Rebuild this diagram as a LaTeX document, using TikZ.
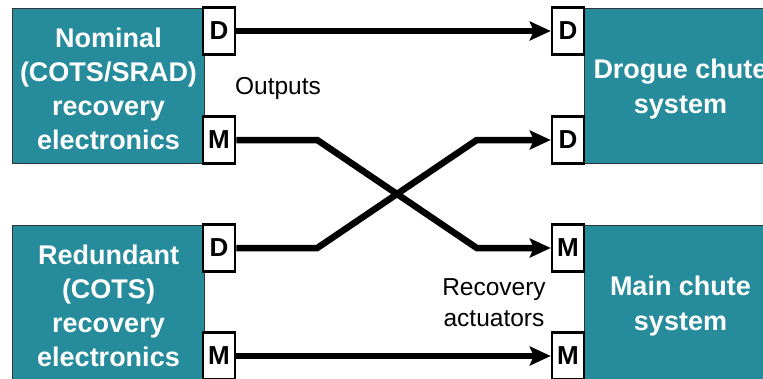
\documentclass[tikz,border=0pt]{standalone}
\usepackage{fontspec}
\setmainfont{Liberation Sans}
\usetikzlibrary{arrows.meta}
\definecolor{teal1}{HTML}{268C9B}
\tikzset{
  sysbox/.style={draw=black!80, line width=1pt, fill=teal1, minimum width=192pt, minimum height=155pt,
    anchor=north west, inner sep=0pt},
  boxtext/.style={text=white, align=center, inner sep=0pt,
    font=\fontsize{27pt}{34pt}\selectfont\bfseries},
  port/.style={draw=black, line width=2.5pt, fill=white, minimum width=32pt, minimum height=47pt,
    inner sep=0pt, font=\fontsize{26pt}{28pt}\selectfont\bfseries},
  conn/.style={line width=6.5pt, -{Stealth[length=21pt,width=19pt,inset=4pt]}},
  lbl/.style={align=center, font=\fontsize{24.5pt}{31pt}\selectfont}
}
\begin{document}
\begin{tikzpicture}[x=1pt,y=-1pt]
\useasboundingbox (0,0) rectangle (763,378);
\clip (0,0) rectangle (763,378);
% boxes
\node[sysbox] (nom) at (12,8) {};
\node[sysbox] (red) at (12,225) {};
\node[sysbox] (dro) at (584,8) {};
\node[sysbox] (mai) at (584,225) {};
\node[boxtext] (nomt) at ([yshift=-2.5pt]nom.center) {Nominal\\(COTS/SRAD)\\recovery\\electronics};
\node[boxtext] (redt) at ([yshift=-2.5pt]red.center) {Redundant\\(COTS)\\recovery\\electronics};
\node[boxtext, font=\fontsize{27pt}{35pt}\selectfont\bfseries] (drot) at ([yshift=-3pt]dro.center) {Drogue chute\\system};
\node[boxtext, font=\fontsize{27pt}{35pt}\selectfont\bfseries] (mait) at ([yshift=-3pt]mai.center) {Main chute\\system};
% ports
\node[port] (nD) at (219,31) {D};
\node[port] (nM) at (219,140) {M};
\node[port] (rD) at (219,248) {D};
\node[port] (rM) at (219,356) {M};
\node[port] (dD1) at (568,31) {D};
\node[port] (dD2) at (568,140) {D};
\node[port] (mM1) at (568,248) {M};
\node[port] (mM2) at (568,356) {M};
% labels
\node[lbl] (out) at (278,88) {Outputs};
\node[lbl] (act) at (494,303) {Recovery\\actuators};
% connectors
\draw[conn] (nD.east) -- (dD1.west);
\draw[conn] (nM.east) -- ([xshift=81pt]nM.east) -- ([xshift=-74pt]mM1.west) -- (mM1.west);
\draw[conn] (rD.east) -- ([xshift=81pt]rD.east) -- ([xshift=-74pt]dD2.west) -- (dD2.west);
\draw[conn] (rM.east) -- (mM2.west);
\end{tikzpicture}
\end{document}
